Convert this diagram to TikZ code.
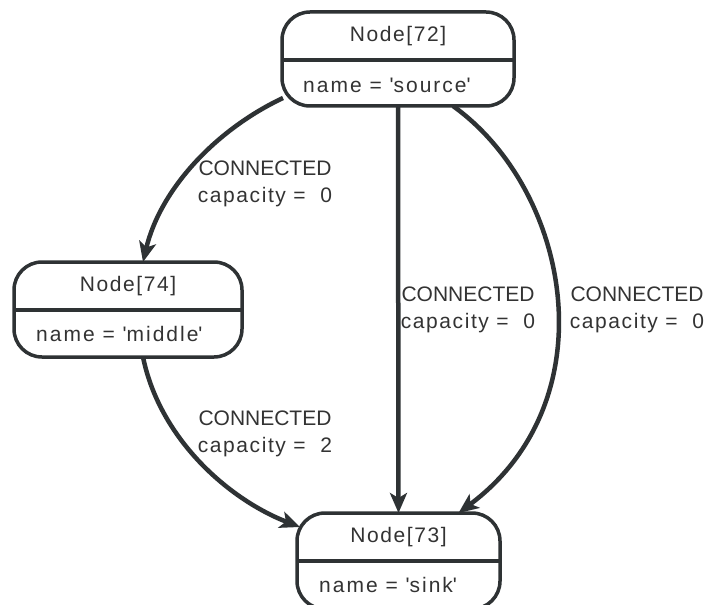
\documentclass[tikz,border=0pt]{standalone}
\usepackage{fontspec}
\setmainfont{Liberation Sans}
\newfontfamily\spacedfont{Liberation Sans}[LetterSpace=7.5]
\newfontfamily\widefont{Liberation Sans}[LetterSpace=9.5]
\usetikzlibrary{arrows.meta,calc}
\definecolor{edgecol}{HTML}{2E3234}
\definecolor{txtcol}{HTML}{333333}
\newcommand{\sq}{\textquotesingle}
\begin{document}
\begin{tikzpicture}[x=1pt,y=-1pt,
  umlnode/.style={draw=edgecol,line width=3.5pt,rounded corners=28pt,rectangle,inner sep=0pt,outer sep=0pt},
  divider/.style={draw=edgecol,line width=3.5pt},
  ntext/.style={text=txtcol,font=\spacedfont\fontsize{21}{26}\selectfont,inner sep=0pt},
  atext/.style={text=txtcol,font=\widefont\fontsize{21}{26}\selectfont,inner sep=0pt,anchor=west},
  elabel/.style={text=txtcol,font=\fontsize{21}{27}\selectfont,align=center,inner sep=0pt},
  conn/.style={draw=edgecol,line width=4.5pt,-{Stealth[length=20pt,width=17pt,inset=5pt]}}
]
\useasboundingbox (0,0) rectangle (708,604);
\clip (0,0) rectangle (708,604);
\fill[white] (0,0) rectangle (708,604);

% nodes
\node[umlnode,minimum width=232pt,minimum height=94pt] (n72) at (398,59) {};
\node[umlnode,minimum width=228pt,minimum height=95pt] (n74) at (128,309.5) {};
\node[umlnode,minimum width=203pt,minimum height=96pt] (n73) at (398.5,561) {};

\draw[divider] (n72.west |- 0,60) -- (n72.east |- 0,60);
\draw[divider] (n74.west |- 0,310) -- (n74.east |- 0,310);
\draw[divider] (n73.west |- 0,561) -- (n73.east |- 0,561);

\node[ntext] (t72a) at (398,36) {Node[72]};
\node[atext] (t72b) at ([xshift=21pt]n72.west |- 0,85) {name = \sq source\sq};
\node[ntext] (t74a) at (128,286) {Node[74]};
\node[atext] (t74b) at ([xshift=22pt]n74.west |- 0,334) {name = \sq middle\sq};
\node[ntext] (t73a) at (398.5,537) {Node[73]};
\node[atext] (t73b) at ([xshift=22pt]n73.west |- 0,585) {name = \sq sink\sq};

% connectors
\draw[conn] ([shift={(1,-8)}]n72.south west) .. controls (215,130) and (160,190) .. ([xshift=15pt]n74.north);
\draw[conn] (n72.south) -- (n73.north);
\draw[conn] ([xshift=55pt]n72.south) .. controls (570,190) and (610,400) .. ([xshift=60pt]n73.north);
\draw[conn] ([xshift=15pt]n74.south) .. controls (160,440) and (230,500) .. ([shift={(3,-34)}]n73.west);

% labels
\node[elabel] (l1) at (265,184) {CONNECTED\\{\spacedfont capacity = \ 0}};
\node[elabel] (l2) at (468,310) {CONNECTED\\{\spacedfont capacity = \ 0}};
\node[elabel] (l3) at (637,310) {CONNECTED\\{\spacedfont capacity = \ 0}};
\node[elabel] (l4) at (265,434) {CONNECTED\\{\spacedfont capacity = \ 2}};
\end{tikzpicture}
\end{document}
